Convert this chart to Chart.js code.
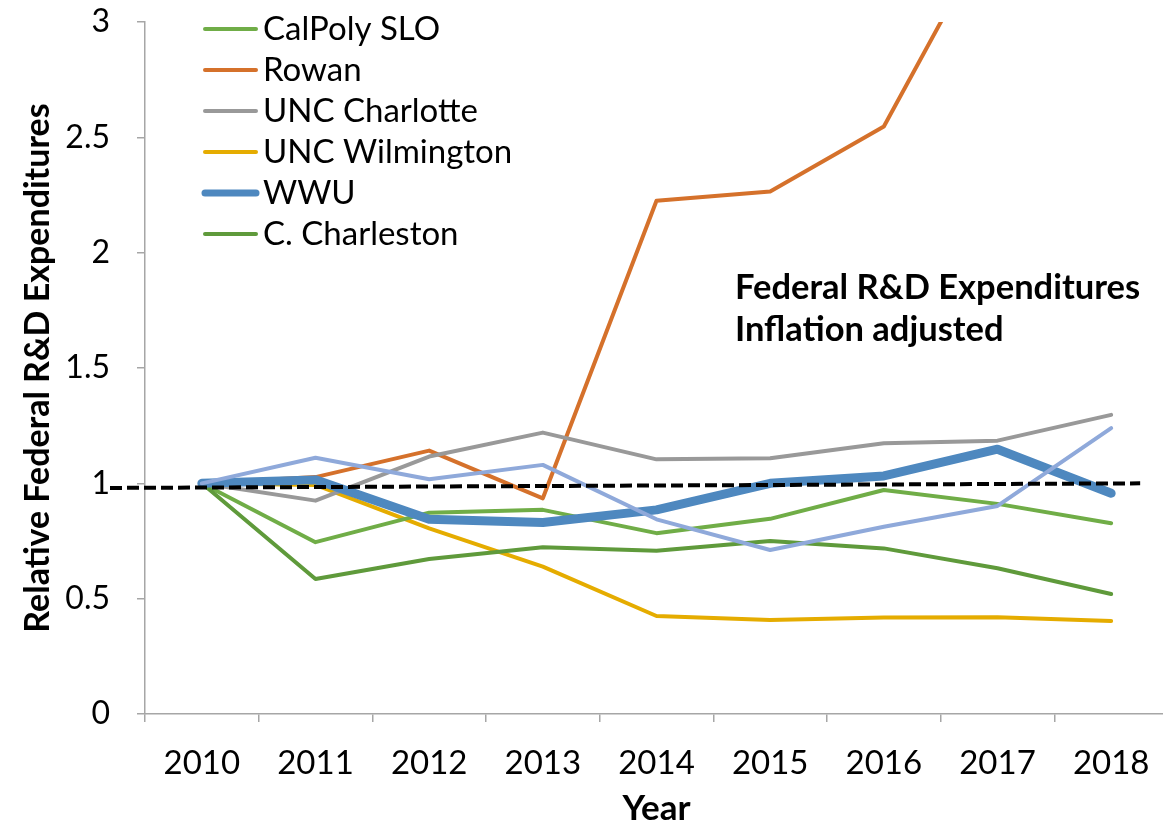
<!DOCTYPE html>
<html>
<head>
<meta charset="utf-8">
<title>Relative Federal R&amp;D Expenditures</title>
<script src="https://cdn.jsdelivr.net/npm/chart.js@4.4.1/dist/chart.umd.min.js"></script>
<style>
  html, body { margin: 0; padding: 0; overflow: hidden; background: #fff; }
  #wrap { width: 1175px; height: 826px; }
</style>
</head>
<body>
<div id="wrap"><canvas id="rdChart" width="1175" height="826"></canvas></div>
<script>
// values
const years = ['2010', '2011', '2012', '2013', '2014', '2015', '2016', '2017', '2018'];
const calPolySlo    = [1.00, 0.745, 0.873, 0.885, 0.784, 0.846, 0.971, 0.911, 0.827];
const rowan         = [1.00, 1.027, 1.142, 0.935, 2.225, 2.265, 2.547, 3.45, 3.90];
const uncCharlotte  = [1.00, 0.925, 1.116, 1.220, 1.104, 1.109, 1.174, 1.185, 1.297];
const uncWilmington = [1.00, 0.993, 0.805, 0.639, 0.425, 0.408, 0.418, 0.419, 0.403];
const wwu           = [1.00, 1.015, 0.844, 0.830, 0.885, 1.000, 1.032, 1.148, 0.957];
const cCharleston   = [1.00, 0.585, 0.672, 0.723, 0.708, 0.750, 0.718, 0.632, 0.520];
const otherSeries   = [1.00, 1.111, 1.018, 1.080, 0.844, 0.711, 0.812, 0.902, 1.239];
const yTicks = [0, 0.5, 1, 1.5, 2, 2.5, 3];
const referenceLine = [0.98, 1.0]; // dashed line, value at left end / right end
const noteLines = ['Federal R&D Expenditures', 'Inflation adjusted'];

Chart.defaults.font.family = 'Lato';
Chart.defaults.color = '#000';

function series(label, data, color, width, order, inLegend) {
    return {
        label: label,
        data: data,
        borderColor: color,
        backgroundColor: color,
        borderWidth: width,
        pointRadius: 0,
        pointHoverRadius: 0,
        tension: 0,
        borderJoinStyle: 'round',
        borderCapStyle: 'round',
        order: order,
        inLegend: inLegend
    };
}

const datasets = [
    series('CalPoly SLO', calPolySlo, '#70ad47', 4, 5, true),
    series('Rowan', rowan, '#d5712b', 4, 4, true),
    series('UNC Charlotte', uncCharlotte, '#999999', 4, 3, true),
    series('UNC Wilmington', uncWilmington, '#e5ac00', 4, 6, true),
    series('WWU', wwu, '#4e88bf', 9, 1, true),
    series('C. Charleston', cCharleston, '#5f9a3b', 4, 2, true),
    series('Other', otherSeries, '#8fa9da', 4, 0, false)
];

// dashed reference line, custom legend and the note text
const decor = {
    id: 'decor',
    afterDatasetsDraw(chart) {
        const {ctx, scales: {x, y}} = chart;
        ctx.save();
        ctx.setLineDash([12, 5]);
        ctx.lineWidth = 4;
        ctx.strokeStyle = '#000';
        ctx.beginPath();
        ctx.moveTo(110, y.getPixelForValue(referenceLine[0]));
        ctx.lineTo(x.getPixelForValue(years.length - 1) + 29, y.getPixelForValue(referenceLine[1]));
        ctx.stroke();
        ctx.restore();
    },
    afterDraw(chart) {
        const ctx = chart.ctx;
        ctx.save();
        let row = 0;
        chart.data.datasets.forEach((ds) => {
            if (!ds.inLegend) return;
            const ly = 29 + row * 41;
            ctx.strokeStyle = ds.borderColor;
            ctx.lineWidth = Math.min(ds.borderWidth, 7);
            ctx.lineCap = 'round';
            ctx.beginPath();
            ctx.moveTo(205, ly);
            ctx.lineTo(256, ly);
            ctx.stroke();
            ctx.fillStyle = '#000';
            ctx.font = '33px Lato';
            ctx.textBaseline = 'middle';
            ctx.fillText(ds.label, 263, ly);
            row++;
        });
        ctx.font = 'bold 34.5px Lato';
        ctx.fillStyle = '#000';
        ctx.textBaseline = 'middle';
        noteLines.forEach((t, i) => ctx.fillText(t, 735, 288 + i * 42));
        ctx.restore();
    }
};

new Chart(document.getElementById('rdChart').getContext('2d'), {
    type: 'line',
    data: {
        labels: years,
        datasets: datasets
    },
    options: {
        responsive: false,
        animation: false,
        layout: {padding: {top: 22, right: 7, left: 0, bottom: 0}},
        plugins: {
            legend: {display: false},
            tooltip: {enabled: false}
        },
        scales: {
            x: {
                offset: true,
                grid: {offset: true, drawOnChartArea: false, tickLength: 8, color: '#a6a6a6', lineWidth: 1.5},
                border: {color: '#a6a6a6', width: 1.5},
                ticks: {color: '#000', font: {size: 33}, padding: 22, maxRotation: 0, autoSkip: false},
                title: {display: true, text: 'Year', color: '#000', font: {size: 35, weight: 'bold', lineHeight: 1}, padding: 0},
                afterFit(scale) { scale.height = 112; }
            },
            y: {
                min: 0,
                max: 3,
                afterBuildTicks(scale) { scale.ticks = yTicks.map(v => ({value: v})); },
                ticks: {color: '#000', font: {size: 32}, padding: 27, callback: v => String(v)},
                grid: {drawOnChartArea: false, tickLength: 8, color: '#a6a6a6', lineWidth: 1.5},
                border: {color: '#a6a6a6', width: 1.5},
                title: {display: true, text: 'Relative Federal R&D Expenditures', color: '#000', font: {size: 34, weight: 'bold', lineHeight: 1}, padding: {top: 21, bottom: 0}},
                afterFit(scale) {
                    scale.width = 145;
                    scale.paddingTop = 0;
                    scale.paddingBottom = 0;
                }
            }
        }
    },
    plugins: [decor]
});
</script>
</body>
</html>
